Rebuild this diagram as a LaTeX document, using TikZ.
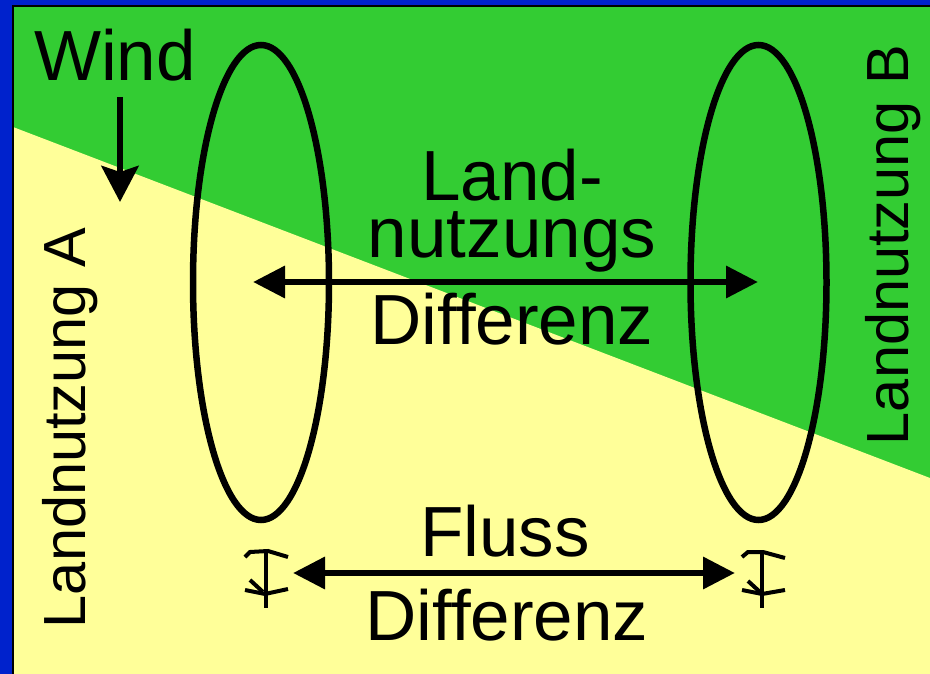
\documentclass[tikz,border=0pt]{standalone}
\usepackage{fontspec}
\setmainfont{Liberation Sans}
\usetikzlibrary{arrows.meta}
\definecolor{bgblue}{HTML}{0022CC}
\definecolor{landgreen}{HTML}{33CC33}
\definecolor{landyellow}{HTML}{FFFF99}
\begin{document}
\begin{tikzpicture}[x=1pt,y=-1pt,
  lbl/.style={inner sep=0pt, anchor=base, font=\fontsize{71}{57}\selectfont},
  sidelbl/.style={inner sep=0pt, anchor=base, rotate=90, font=\fontsize{59.5}{70}\selectfont},
  ring/.style={draw=black, line width=6.5pt},
  dblarrow/.style={line width=6.5pt, {Triangle[length=32pt,width=31pt]}-{Triangle[length=32pt,width=31pt]}},
  windarrow/.style={line width=6.5pt, -{Stealth[length=36pt,width=37pt,inset=6pt]}},
  gauge/.style={line width=4pt, line cap=butt, line join=miter}
]
\useasboundingbox (0,0) rectangle (930,674);
% background
\fill[bgblue] (0,0) rectangle (930,674);
\fill[landgreen] (13,6) rectangle (930,674);
\fill[landyellow] (13,127) -- (930,478) -- (930,674) -- (13,674) -- cycle;
\draw[black, line width=2pt] (13,674) -- (13,6) -- (930,6);

% ellipses
\draw[ring] (261,282.5) ellipse [x radius=68, y radius=237.5];
\draw[ring] (758.5,282.5) ellipse [x radius=68, y radius=237.5];

% labels
\node[lbl] (wind) at (115,81) {Wind};
\node[lbl, align=center] (landnutz) at (512,258) {Land-\\nutzungs};
\node[lbl] (diff1) at (512,344) {Differenz};
\node[lbl] (fluss) at (505,556) {Fluss};
\node[lbl] (diff2) at (507,640) {Differenz};
\node[sidelbl] (lnA) at (85,428) {Landnutzung A};
\node[sidelbl] (lnB) at (908,245) {Landnutzung B};

% arrows
\coordinate (wTop) at (120,97);
\coordinate (wTip) at (120,202);
\draw[windarrow] (wTop) -- (wTip);
\coordinate (lnL) at (253,282);
\coordinate (lnR) at (758,282);
\draw[dblarrow] (lnL) -- (lnR);
\coordinate (flL) at (293,573);
\coordinate (flR) at (735,573);
\draw[dblarrow] (flL) -- (flR);

% gauge symbols
\draw[gauge] (245,557) -- (250,552) -- (268,551) -- (288,557);
\draw[gauge] (266,551) -- (266,608);
\draw[gauge] (245,590) -- (265,594) -- (288,589);
\draw[gauge] (250,580) -- (263,592);

\draw[gauge] (742,557) -- (748,552) -- (763,552) -- (785,558);
\draw[gauge] (762,551) -- (762,608);
\draw[gauge] (742,590) -- (762,594) -- (785,590);
\draw[gauge] (748,581) -- (760,592);
\end{tikzpicture}
\end{document}
